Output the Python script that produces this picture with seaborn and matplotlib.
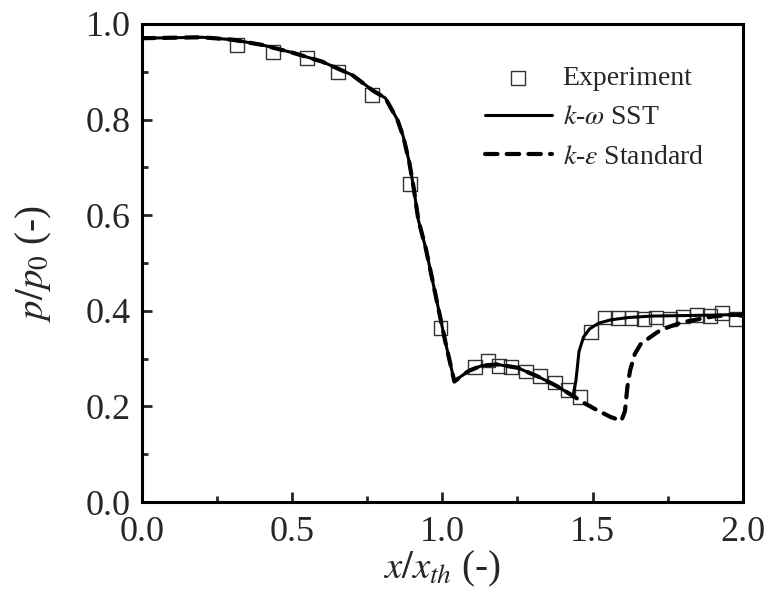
import numpy as np
import pandas as pd
import matplotlib
matplotlib.use("Agg")
import matplotlib.pyplot as plt
import seaborn as sns
from matplotlib.ticker import MultipleLocator

# experiment points
exp_x = [0.315, 0.435, 0.548, 0.653, 0.766, 0.892, 0.994, 1.108, 1.152, 1.189, 1.230,
         1.280, 1.324, 1.374, 1.419, 1.458, 1.496, 1.541, 1.585, 1.630, 1.671, 1.712,
         1.757, 1.801, 1.849, 1.890, 1.932, 1.977]
exp_y = [0.956, 0.942, 0.928, 0.900, 0.851, 0.665, 0.364, 0.282, 0.296, 0.285, 0.283,
         0.273, 0.263, 0.250, 0.234, 0.220, 0.356, 0.386, 0.385, 0.385, 0.383, 0.386,
         0.383, 0.388, 0.392, 0.390, 0.396, 0.383]

# k-omega SST
sst_x = [0, 0.1, 0.2, 0.3, 0.4, 0.5, 0.6, 0.7, 0.77, 0.81, 0.85, 0.87, 0.89, 0.905, 0.92,
         0.945, 0.98, 1.01, 1.04, 1.06, 1.09, 1.13, 1.18, 1.25, 1.32, 1.38, 1.435, 1.445,
         1.455, 1.47, 1.49, 1.52, 1.56, 1.62, 1.70, 1.80, 1.90, 1.97, 2.0]
sst_y = [0.970, 0.971, 0.972, 0.967, 0.956, 0.940, 0.921, 0.893, 0.860, 0.845, 0.800, 0.764,
         0.710, 0.655, 0.590, 0.530, 0.425, 0.335, 0.252, 0.262, 0.275, 0.285, 0.288, 0.281,
         0.262, 0.243, 0.222, 0.255, 0.315, 0.345, 0.362, 0.374, 0.381, 0.386, 0.389, 0.390,
         0.391, 0.392, 0.388]

# k-epsilon standard (same as SST up to x=1.435)
ke_x = sst_x[:27] + [1.47, 1.51, 1.56, 1.596, 1.608, 1.616, 1.625, 1.641, 1.66, 1.69, 1.72,
                     1.757, 1.80, 1.857, 1.90, 1.95, 2.0]
ke_y = sst_y[:27] + [0.208, 0.194, 0.178, 0.170, 0.190, 0.240, 0.275, 0.310, 0.330, 0.344,
                     0.357, 0.367, 0.376, 0.383, 0.388, 0.391, 0.392]

sns.set_style("ticks")
plt.rcParams['font.family'] = ['Liberation Serif', 'DejaVu Serif']
plt.rcParams['mathtext.fontset'] = 'stix'

fig = plt.figure(figsize=(7.72, 5.97), dpi=100)
ax = fig.add_axes([0.184, 0.159, 0.778, 0.801])

sns.scatterplot(x=exp_x, y=exp_y, ax=ax, marker='s', s=100, facecolor='none',
                edgecolor='#333333', linewidth=1.0, label='Experiment', zorder=2)
sns.lineplot(x=sst_x, y=sst_y, ax=ax, color='black', lw=2.2, sort=False,
             estimator=None, label=r'$k$-$\omega$ SST', zorder=3)
sns.lineplot(x=ke_x, y=ke_y, ax=ax, color='black', lw=3.0, sort=False,
             estimator=None, label=r'$k$-$\varepsilon$ Standard', zorder=3)
ax.lines[-1].set_linestyle((0, (3, 2.2)))
ax.lines[-1].set_dash_capstyle('round')

ax.set_xlim(0, 2.0)
ax.set_ylim(0, 1.0)
ax.xaxis.set_major_locator(MultipleLocator(0.5))
ax.xaxis.set_minor_locator(MultipleLocator(0.25))
ax.yaxis.set_major_locator(MultipleLocator(0.2))
ax.yaxis.set_minor_locator(MultipleLocator(0.1))
ax.tick_params(which='major', direction='in', length=7, width=2, labelsize=26,
               top=False, right=False)
ax.tick_params(axis='x', which='major', pad=10)
ax.tick_params(axis='y', which='major', pad=8)
ax.tick_params(which='minor', direction='in', length=4, width=2, top=False, right=False)
for s in ax.spines.values():
    s.set_visible(True)
    s.set_linewidth(2.2)
    s.set_color('black')

ax.set_xlabel(r'$x/x_{th}$ (-)', fontsize=28, labelpad=0)
ax.set_ylabel(r'$p/p_0$ (-)', fontsize=28, labelpad=23)

leg = ax.legend(loc='upper right', bbox_to_anchor=(0.977, 0.965), frameon=False,
                fontsize=20, handlelength=2.4, handletextpad=0.4, labelspacing=0.5)

fig.savefig("out.png", dpi=100)
